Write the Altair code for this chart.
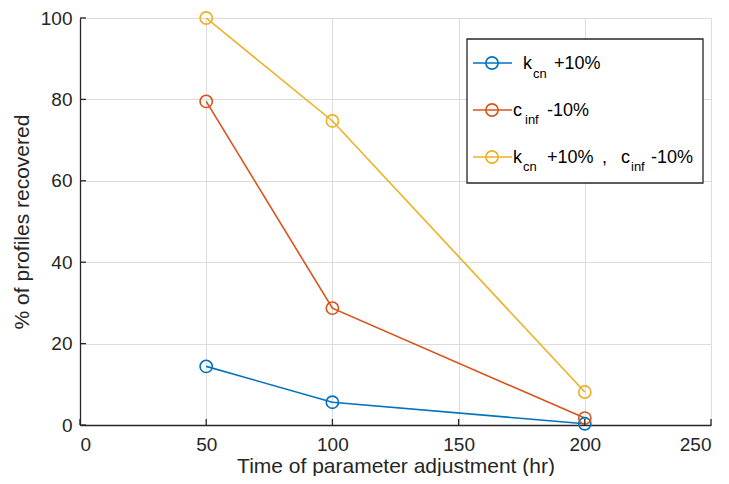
import altair as alt
import pandas as pd

# ---- data ----
times = [50, 100, 200]
kcn_plus = [14.4, 5.6, 0.3]
cinf_minus = [79.5, 28.7, 1.7]
both = [100.0, 74.7, 8.1]
series_names = ["kcn +10%", "cinf -10%", "kcn +10%, cinf -10%"]
colors = ["#0072BD", "#D95319", "#EDB120"]
x_ticks = [0, 50, 100, 150, 200, 250]
y_ticks = [0, 20, 40, 60, 80, 100]

rows = []
for name, vals in zip(series_names, [kcn_plus, cinf_minus, both]):
    for t, v in zip(times, vals):
        rows.append({"time": t, "pct": v, "series": name})
df = pd.DataFrame(rows)

FONT = "Liberation Sans"
W, H = 631, 407

xs = alt.Scale(domain=[0, 250], nice=False)
ys = alt.Scale(domain=[0, 100], nice=False)
cs = alt.Scale(domain=series_names, range=colors)

base = alt.Chart(df).encode(
    x=alt.X("time:Q", scale=xs,
            axis=alt.Axis(values=x_ticks, title="Time of parameter adjustment (hr)",
                          format="d")),
    y=alt.Y("pct:Q", scale=ys,
            axis=alt.Axis(values=y_ticks, title="% of profiles recovered", format="d")),
    color=alt.Color("series:N", scale=cs, legend=None),
)
lines = base.mark_line(strokeWidth=1.6)
points = base.mark_point(shape="circle", size=150, strokeWidth=1.6, filled=False, opacity=1)

# inward tick marks (MATLAB style)
xt = alt.Chart(pd.DataFrame({"v": x_ticks})).mark_rule(color="#262626", strokeWidth=1.3).encode(
    x=alt.X("v:Q", scale=xs), y=alt.value(H), y2=alt.value(H - 6))
yt = alt.Chart(pd.DataFrame({"v": y_ticks})).mark_rule(color="#262626", strokeWidth=1.3).encode(
    y=alt.Y("v:Q", scale=ys), x=alt.value(0), x2=alt.value(6))

# ---- manual legend (page coords minus plot origin 80,18) ----
OX, OY = 80, 18
box = alt.Chart(pd.DataFrame({"a": [0]})).mark_rect(
    fill="white", stroke="#262626", strokeWidth=1.3).encode(
    x=alt.value(467 - OX), x2=alt.value(703 - OX),
    y=alt.value(39 - OY), y2=alt.value(183 - OY))

leg_y = [63, 110, 157]
leg_lines = []
for c, yy in zip(colors, leg_y):
    leg_lines.append(alt.Chart(pd.DataFrame({"a": [0]})).mark_rule(color=c, strokeWidth=1.6).encode(
        x=alt.value(473 - OX), x2=alt.value(512 - OX), y=alt.value(yy - OY)))
    leg_lines.append(alt.Chart(pd.DataFrame({"a": [0]})).mark_point(
        shape="circle", size=150, strokeWidth=1.6, color=c, filled=False, opacity=1).encode(
        x=alt.value(492 - OX), y=alt.value(yy - OY)))

pieces = [
    # text, page x, baseline page y, font size
    ("k", 523, 69, 18), ("cn", 533, 78, 13), ("+10%", 554, 69, 18),
    ("c", 513, 116, 18), ("inf", 525, 124, 13), ("-10%", 547, 116, 18),
    ("k", 513, 163, 18), ("cn", 523, 171, 13), ("+10%", 547, 163, 18), (",", 602, 163, 18),
    ("c", 621, 163, 18), ("inf", 631, 171, 13), ("-10%", 651, 163, 18),
]
leg_text = []
for txt, px, py, fs in pieces:
    leg_text.append(alt.Chart(pd.DataFrame({"t": [txt]})).mark_text(
        align="left", baseline="alphabetic", font=FONT, fontSize=fs, color="#000000").encode(
        text="t:N", x=alt.value(px - OX), y=alt.value(py - OY)))

chart = alt.layer(lines, points, xt, yt, box, *leg_lines, *leg_text).properties(
    width=W, height=H,
    autosize=alt.AutoSizeParams(type="none"),
    padding={"left": 72, "top": 10, "right": 10, "bottom": 51},
    background="white",
).configure_view(stroke=None).configure_axis(
    grid=True, gridColor="#dcdcdc", gridWidth=1,
    domainColor="#262626", domainWidth=1.3,
    tickSize=0,
    labelFont=FONT, labelFontSize=19, labelColor="#262626",
    titleFont=FONT, titleFontSize=21, titleColor="#262626", titleFontWeight="normal",
).configure_axisX(labelPadding=10, titlePadding=1).configure_axisY(labelPadding=8, titlePadding=8)

chart.save("out.html", embed_options={"renderer": "svg", "actions": False})
